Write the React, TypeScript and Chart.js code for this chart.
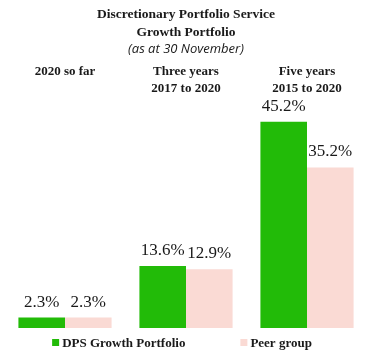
import React, { useEffect, useRef } from "react";
import { Chart, registerables } from "chart.js";

Chart.register(...registerables);

const categories: string[][] = [["2020 so far"], ["Three years", "2017 to 2020"], ["Five years", "2015 to 2020"]];
const dpsValues: number[] = [2.3, 13.6, 45.2];
const peerValues: number[] = [2.3, 12.9, 35.2];
const seriesNames: string[] = ["DPS Growth Portfolio", "Peer group"];
const titleLines: string[] = ["Discretionary Portfolio Service", "Growth Portfolio"];
const subtitleText = "(as at 30 November)";

const GREEN = "rgb(34,187,8)";
const PINK = "rgb(250,218,212)";
const TEXT = "#1a1a1a";
const SERIF = "'Liberation Serif', serif";

const valueLabels = {
  id: "valueLabels",
  afterDatasetsDraw(chart: any) {
    const ctx = chart.ctx;
    ctx.save();
    ctx.font = `17px ${SERIF}`;
    ctx.fillStyle = TEXT;
    ctx.textAlign = "center";
    ctx.textBaseline = "alphabetic";
    chart.data.datasets.forEach((ds: any, i: number) => {
      const meta = chart.getDatasetMeta(i);
      meta.data.forEach((bar: any, j: number) => {
        const v = ds.data[j] as number;
        ctx.fillText(`${v.toFixed(1)}%`, bar.x, bar.y - 11);
      });
    });
    ctx.restore();
  },
};

const customLegend = {
  id: "customLegend",
  afterDraw(chart: any) {
    const ctx = chart.ctx;
    const area = chart.chartArea;
    ctx.save();
    ctx.font = `bold 13px ${SERIF}`;
    ctx.textBaseline = "middle";
    ctx.textAlign = "left";
    const box = 7;
    const gapBoxText = 3;
    const gapItems = 55;
    const widths = chart.data.datasets.map((ds: any) => box + gapBoxText + ctx.measureText(ds.label).width);
    const total = widths.reduce((a: number, b: number) => a + b, 0) + gapItems * (widths.length - 1);
    let x = (area.left + area.right) / 2 - total / 2 - 4;
    const y = area.bottom + 14.5;
    chart.data.datasets.forEach((ds: any, i: number) => {
      ctx.fillStyle = ds.backgroundColor;
      ctx.fillRect(x, y - box / 2, box, box);
      ctx.fillStyle = TEXT;
      ctx.fillText(ds.label, x + box + gapBoxText, y + 1.5);
      x += widths[i] + gapItems;
    });
    ctx.restore();
  },
};

export default function App() {
  const ref = useRef<HTMLCanvasElement | null>(null);
  useEffect(() => {
    document.body.style.margin = "0";
    if (!ref.current) return;
    const chart = new Chart(ref.current, {
      type: "bar",
      data: {
        labels: categories,
        datasets: [
          { label: seriesNames[0], data: dpsValues, backgroundColor: GREEN, borderWidth: 0 },
          { label: seriesNames[1], data: peerValues, backgroundColor: PINK, borderWidth: 0 },
        ],
      },
      options: {
        animation: false,
        responsive: false,
        maintainAspectRatio: false,
        datasets: { bar: { categoryPercentage: 0.77, barPercentage: 1.0 } },
        layout: { padding: { left: 4.5, right: 8.5, top: 5, bottom: 34 } },
        plugins: {
          legend: { display: false },
          tooltip: { enabled: false },
          title: {
            display: true,
            text: titleLines,
            color: TEXT,
            font: { family: SERIF, size: 13.5, weight: "bold", lineHeight: 1.35 },
            padding: { top: 0, bottom: 0 },
          },
          subtitle: {
            display: true,
            text: subtitleText,
            color: TEXT,
            font: { family: "'Open Sans', sans-serif", size: 13, style: "italic", lineHeight: 1.2 },
            padding: { top: 0, bottom: 3 },
          },
        },
        scales: {
          x: {
            position: "top",
            grid: { display: false, drawTicks: false },
            border: { display: false },
            ticks: {
              color: TEXT,
              crossAlign: "far",
              font: { family: SERIF, size: 13, weight: "bold", lineHeight: 1.3 },
              padding: 3,
              maxRotation: 0,
              autoSkip: false,
            },
          },
          y: { display: false, min: 0, max: 50 },
        },
      },
      plugins: [valueLabels, customLegend],
    });
    return () => chart.destroy();
  }, []);
  return <canvas ref={ref} width={376} height={362} style={{ display: "block" }} />;
}
